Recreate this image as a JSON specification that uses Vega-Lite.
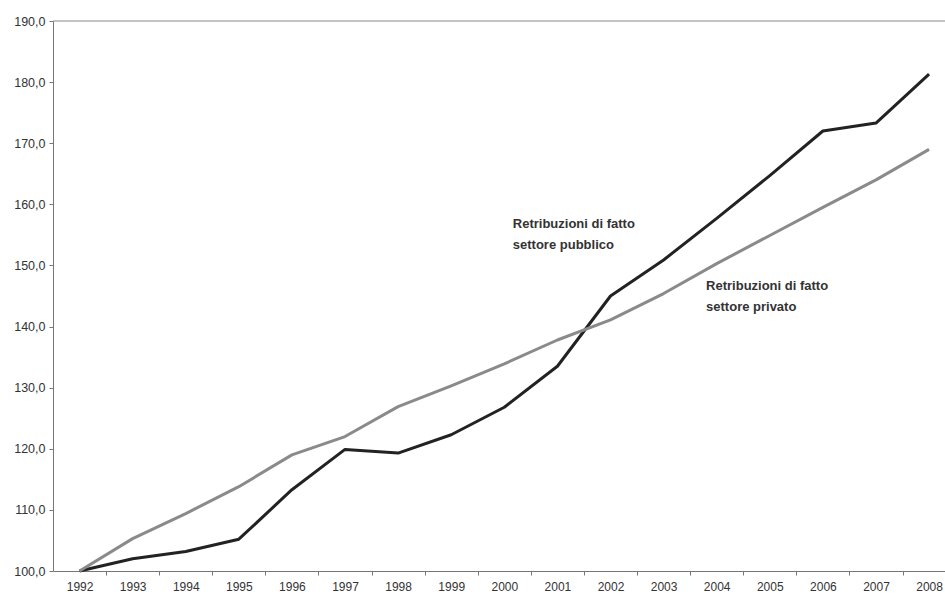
{
  "$schema": "https://vega.github.io/schema/vega-lite/v6.json",
  "width": 892,
  "height": 550,
  "autosize": {"type": "none"},
  "padding": {"left": 53, "top": 21, "right": 0, "bottom": 26},
  "background": "white",
  "config": {
    "view": {"stroke": null},
    "font": "Liberation Sans",
    "axis": {"labelFont": "Liberation Sans", "labelFontSize": 12, "labelColor": "#333", "domainColor": "#777", "tickColor": "#777", "grid": false, "title": null}
  },
  "datasets": {
    "serie": [
      {"anno": 1992, "serie": "pubblico", "valore": 100.0},
      {"anno": 1993, "serie": "pubblico", "valore": 102.0},
      {"anno": 1994, "serie": "pubblico", "valore": 103.2},
      {"anno": 1995, "serie": "pubblico", "valore": 105.2},
      {"anno": 1996, "serie": "pubblico", "valore": 113.3},
      {"anno": 1997, "serie": "pubblico", "valore": 119.9},
      {"anno": 1998, "serie": "pubblico", "valore": 119.3},
      {"anno": 1999, "serie": "pubblico", "valore": 122.3},
      {"anno": 2000, "serie": "pubblico", "valore": 126.8},
      {"anno": 2001, "serie": "pubblico", "valore": 133.5},
      {"anno": 2002, "serie": "pubblico", "valore": 145.0},
      {"anno": 2003, "serie": "pubblico", "valore": 150.9},
      {"anno": 2004, "serie": "pubblico", "valore": 157.7},
      {"anno": 2005, "serie": "pubblico", "valore": 164.7},
      {"anno": 2006, "serie": "pubblico", "valore": 172.0},
      {"anno": 2007, "serie": "pubblico", "valore": 173.3},
      {"anno": 2008, "serie": "pubblico", "valore": 181.3},
      {"anno": 1992, "serie": "privato", "valore": 100.0},
      {"anno": 1993, "serie": "privato", "valore": 105.3},
      {"anno": 1994, "serie": "privato", "valore": 109.4},
      {"anno": 1995, "serie": "privato", "valore": 113.8},
      {"anno": 1996, "serie": "privato", "valore": 119.0},
      {"anno": 1997, "serie": "privato", "valore": 122.0},
      {"anno": 1998, "serie": "privato", "valore": 126.9},
      {"anno": 1999, "serie": "privato", "valore": 130.3},
      {"anno": 2000, "serie": "privato", "valore": 133.9},
      {"anno": 2001, "serie": "privato", "valore": 137.8},
      {"anno": 2002, "serie": "privato", "valore": 141.1},
      {"anno": 2003, "serie": "privato", "valore": 145.4},
      {"anno": 2004, "serie": "privato", "valore": 150.3},
      {"anno": 2005, "serie": "privato", "valore": 154.9},
      {"anno": 2006, "serie": "privato", "valore": 159.5},
      {"anno": 2007, "serie": "privato", "valore": 164.0},
      {"anno": 2008, "serie": "privato", "valore": 169.0}
    ]
  },
  "resolve": {"scale": {"x": "shared", "y": "shared"}, "axis": {"x": "independent"}},
  "layer": [
    {
      "data": {"values": [{}]},
      "mark": {"type": "rule", "color": "#888", "strokeWidth": 1},
      "encoding": {
        "y": {"datum": 190, "type": "quantitative", "scale": {"domain": [100, 190], "nice": false, "zero": false},
          "axis": {"values": [100, 110, 120, 130, 140, 150, 160, 170, 180, 190], "labelExpr": "replace(format(datum.value, '.1f'), '.', ',')", "tickSize": 4, "labelPadding": 4, "labelFontSize": 12.5}}
      }
    },
    {
      "data": {"name": "serie"},
      "mark": {"type": "line", "strokeWidth": 3, "strokeJoin": "round"},
      "encoding": {
        "x": {"field": "anno", "type": "quantitative", "scale": {"domain": [1991.5, 2008.3], "nice": false, "zero": false},
          "axis": {"orient": "bottom", "values": [1992, 1993, 1994, 1995, 1996, 1997, 1998, 1999, 2000, 2001, 2002, 2003, 2004, 2005, 2006, 2007, 2008], "format": "d", "ticks": false, "domain": true, "labelPadding": 10, "labelFlush": false, "labelOverlap": false}},
        "y": {"field": "valore", "type": "quantitative"},
        "color": {"field": "serie", "type": "nominal", "scale": {"domain": ["pubblico", "privato"], "range": ["#222222", "#8a8a8a"]}, "legend": null},
        "order": {"field": "anno"}
      }
    },
    {
      "data": {"values": [{}]},
      "mark": {"type": "text", "text": ["Retribuzioni di fatto", "settore pubblico"], "align": "left", "baseline": "middle", "fontSize": 13, "fontWeight": "bold", "color": "#333", "lineHeight": 21},
      "encoding": {
        "x": {"datum": 2000.16, "type": "quantitative",
          "axis": {"orient": "bottom", "values": [1992.5, 1993.5, 1994.5, 1995.5, 1996.5, 1997.5, 1998.5, 1999.5, 2000.5, 2001.5, 2002.5, 2003.5, 2004.5, 2005.5, 2006.5, 2007.5], "labels": false, "domain": false, "ticks": true, "tickSize": 4}},
        "y": {"datum": 156.8, "type": "quantitative"}
      }
    },
    {
      "data": {"values": [{}]},
      "mark": {"type": "text", "text": ["Retribuzioni di fatto", "settore privato"], "align": "left", "baseline": "middle", "fontSize": 13, "fontWeight": "bold", "color": "#333", "lineHeight": 21},
      "encoding": {
        "x": {"datum": 2003.8, "type": "quantitative", "axis": null},
        "y": {"datum": 146.7, "type": "quantitative"}
      }
    }
  ]
}
